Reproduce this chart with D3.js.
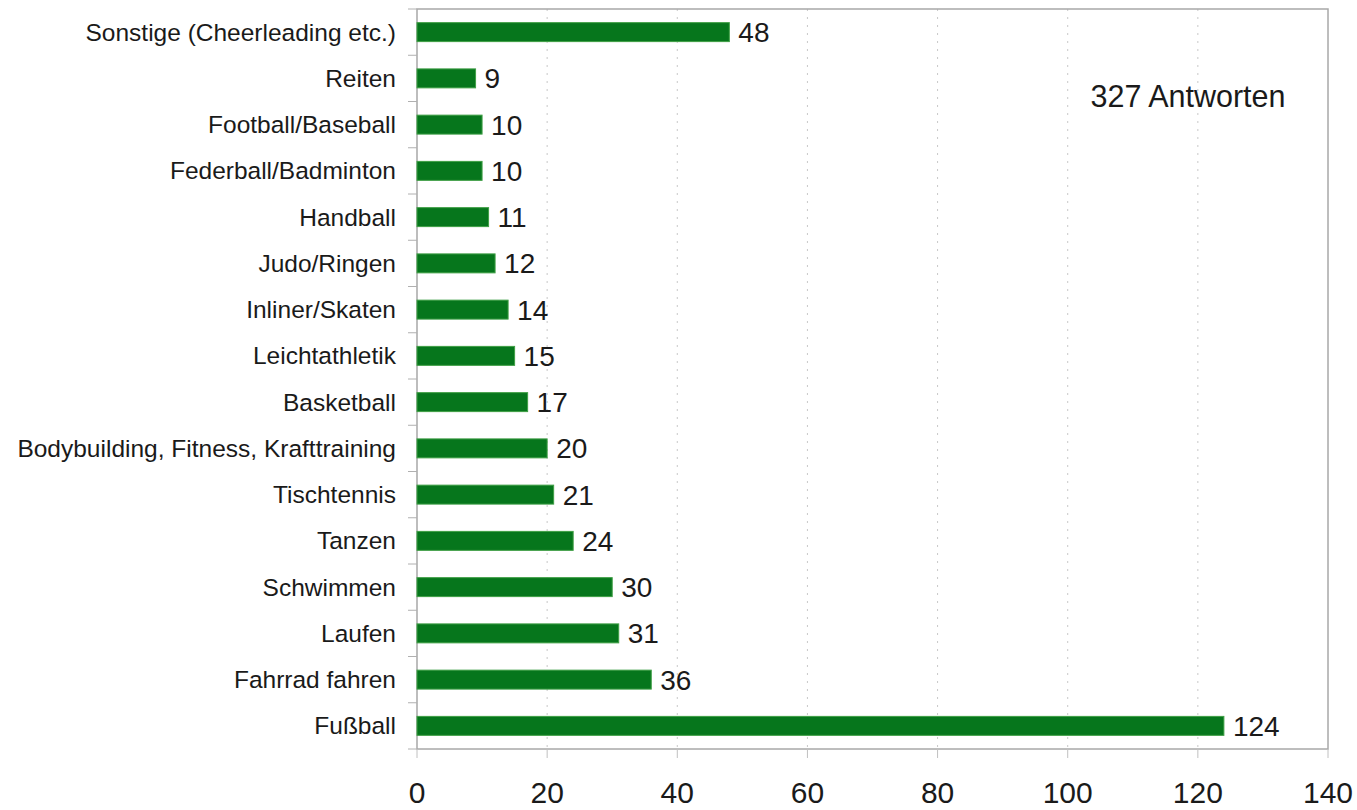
<!DOCTYPE html>
<html lang="de">
<head>
<meta charset="UTF-8">
<title>Sportarten</title>
<script src="https://cdn.jsdelivr.net/npm/d3@7"></script>
<style>
    body { margin: 0; background: #fff; font-family: "Liberation Sans", Arial, sans-serif; }
    svg { display: block; }
</style>
</head>
<body>
<script>
    const categories = [
        "Sonstige (Cheerleading etc.)", "Reiten", "Football/Baseball", "Federball/Badminton",
        "Handball", "Judo/Ringen", "Inliner/Skaten", "Leichtathletik", "Basketball",
        "Bodybuilding, Fitness, Krafttraining", "Tischtennis", "Tanzen", "Schwimmen",
        "Laufen", "Fahrrad fahren", "Fußball"
    ];
    const counts = [48, 9, 10, 10, 11, 12, 14, 15, 17, 20, 21, 24, 30, 31, 36, 124];
    const xTicks = [0, 20, 40, 60, 80, 100, 120, 140];
    const note = "327 Antworten";

    const width = 1357, height = 810;
    const m = { top: 9, right: 29, bottom: 61, left: 417 };
    const iw = width - m.left - m.right;
    const ih = height - m.top - m.bottom;

    const svg = d3.select("body").append("svg").attr("width", width).attr("height", height);
    const g = svg.append("g").attr("transform", `translate(${m.left},${m.top})`);

    const x = d3.scaleLinear().domain([0, 140]).range([0, iw]);
    const y = d3.scaleBand().domain(categories).range([0, ih]).paddingInner(0.59).paddingOuter(0.295);

    // dotted grid
    g.selectAll(".grid").data(xTicks.slice(1, -1)).join("line")
        .attr("x1", d => x(d)).attr("x2", d => x(d))
        .attr("y1", 0).attr("y2", ih)
        .attr("stroke", "#c8c8c8").attr("stroke-dasharray", "2,6");

    // frame
    g.append("rect").attr("width", iw).attr("height", ih)
        .attr("fill", "none").attr("stroke", "#a8a8a8").attr("stroke-width", 1.5);

    // y ticks at band boundaries
    const step = ih / categories.length;
    g.selectAll(".ytick").data(d3.range(categories.length + 1)).join("line")
        .attr("x1", -9).attr("x2", 0)
        .attr("y1", d => d * step).attr("y2", d => d * step)
        .attr("stroke", "#b0b0b0");

    // x ticks
    g.selectAll(".xtick").data(xTicks).join("line")
        .attr("x1", d => x(d)).attr("x2", d => x(d))
        .attr("y1", ih).attr("y2", ih + 9)
        .attr("stroke", "#c0c0c0");

    g.selectAll(".xlab").data(xTicks).join("text")
        .attr("x", d => x(d)).attr("y", ih + 54)
        .attr("text-anchor", "middle")
        .attr("font-size", 30).attr("fill", "#1a1a1a")
        .text(d => d);

    // category labels
    g.selectAll(".ylab").data(categories).join("text")
        .attr("x", -21).attr("y", d => y(d) + y.bandwidth() / 2)
        .attr("dy", "0.35em").attr("text-anchor", "end")
        .attr("font-size", 24.5).attr("fill", "#1a1a1a")
        .text(d => d);

    // bars
    g.selectAll(".bar").data(categories).join("rect")
        .attr("x", 0).attr("y", d => y(d))
        .attr("width", (d, i) => x(counts[i]))
        .attr("height", y.bandwidth())
        .attr("fill", "#06761c").attr("stroke", "#3f9f45").attr("stroke-width", 1);

    // value labels
    g.selectAll(".val").data(categories).join("text")
        .attr("x", (d, i) => x(counts[i]) + 9)
        .attr("y", d => y(d) + y.bandwidth() / 2)
        .attr("dy", "0.36em")
        .attr("font-size", 28).attr("fill", "#1a1a1a")
        .text((d, i) => counts[i]);

    g.append("text")
        .attr("x", x(103.5)).attr("y", 107 - m.top)
        .attr("font-size", 30.5).attr("fill", "#1a1a1a")
        .text(note);
</script>
</body>
</html>
